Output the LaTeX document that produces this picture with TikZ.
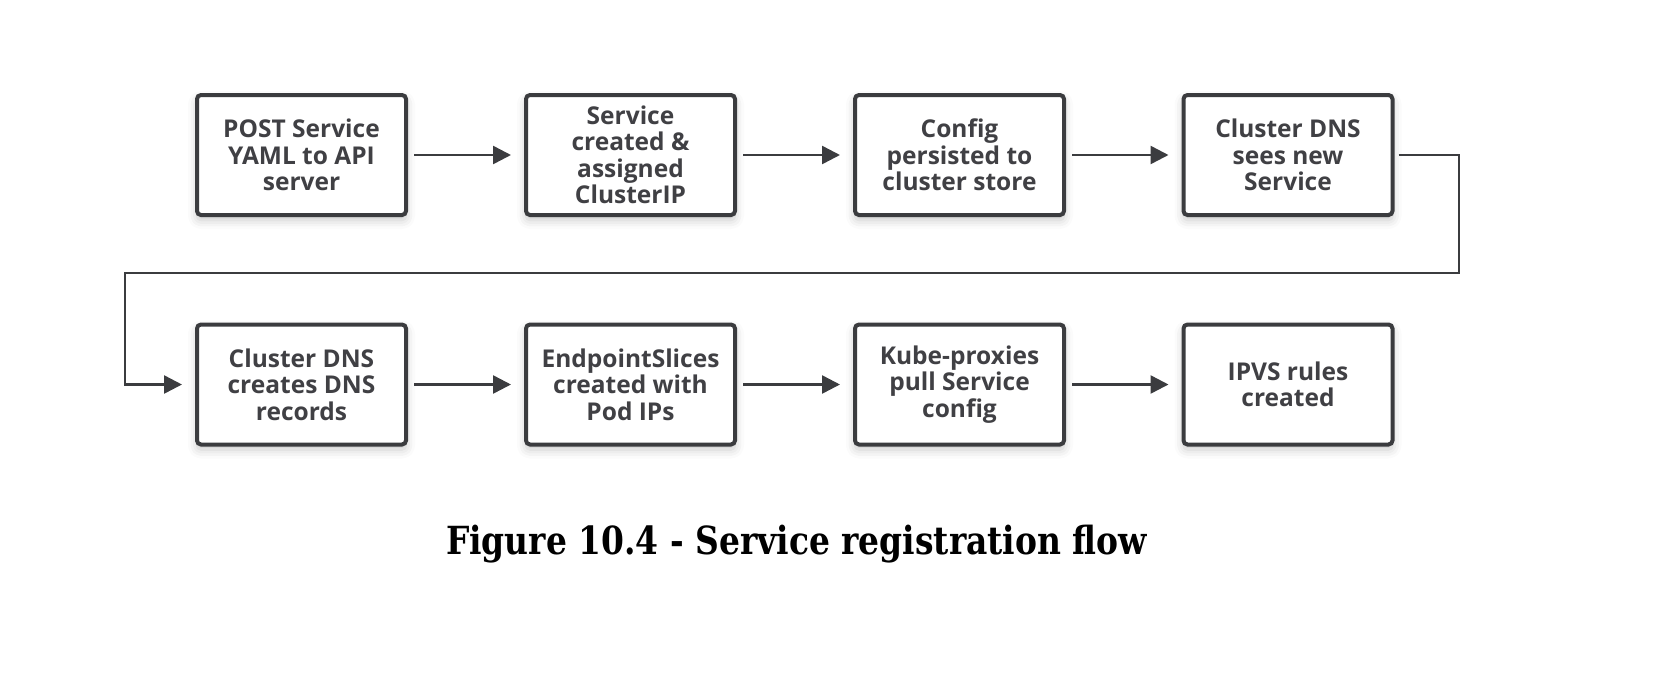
\documentclass[tikz,border=0pt]{standalone}
\usepackage{fontspec}
\setmainfont{DejaVu Serif}
\newfontfamily\boxfont{Open Sans}
\usetikzlibrary{arrows.meta,shadows.blur}
\definecolor{edgegray}{HTML}{3B3C3F}
\definecolor{txtgray}{HTML}{404044}
\tikzset{
  flowbox/.style={draw=edgegray, line width=4pt, fill=white, rounded corners=4pt,
    minimum width=209pt, minimum height=120pt, inner sep=0pt, align=center,
    text=txtgray, font=\boxfont\bfseries\fontsize{24.5}{26.5}\selectfont,
    blur shadow={shadow xshift=0pt, shadow yshift=-5pt, shadow blur radius=9pt, shadow opacity=22}},
  conn/.style={draw=edgegray, line width=2.5pt, -{Triangle[length=18pt,width=18pt]},
    shorten <=6pt, shorten >=13pt}
}
\begin{document}
\begin{tikzpicture}[x=1pt,y=-1pt]
\useasboundingbox (0,0) rectangle (1654,678);
\node[flowbox] (b1) at (301.5,155) {POST Service\\YAML to API\\server};
\node[flowbox] (b2) at (630.5,155) {Service\\created \&\\assigned\\ClusterIP};
\node[flowbox] (b3) at (959.5,155) {Config\\persisted to\\cluster store};
\node[flowbox] (b4) at (1288,155) {Cluster DNS\\sees new\\Service};
\node[flowbox] (b5) at (301.5,384.5) {Cluster DNS\\creates DNS\\records};
\node[flowbox] (b6) at (630.5,384.5) {EndpointSlices\\created with\\Pod IPs};
\node[flowbox] (b7) at (959.5,384.5) {Kube-proxies\\pull Service\\config};
\node[flowbox] (b8) at (1288,384.5) {IPVS rules\\created};
\draw[conn] (b1) -- (b2);
\draw[conn] (b2) -- (b3);
\draw[conn] (b3) -- (b4);
\draw[conn] (b5) -- (b6);
\draw[conn] (b6) -- (b7);
\draw[conn] (b7) -- (b8);
\coordinate (c1) at (1459,155);
\coordinate (c2) at (1459,273);
\coordinate (c3) at (125,273);
\coordinate (c4) at (125,384.5);
\draw[conn, shorten <=4pt] (b4.east) -- (c1) -- (c2) -- (c3) -- (c4) -- (b5.west);
\node[anchor=base, inner sep=0pt] (cap) at (796.5,554) {\resizebox{701pt}{!}{\scalebox{0.85}[1]{\bfseries\fontsize{33}{38}\selectfont Figure 10.4 - Service registration flow}}};
\end{tikzpicture}
\end{document}
